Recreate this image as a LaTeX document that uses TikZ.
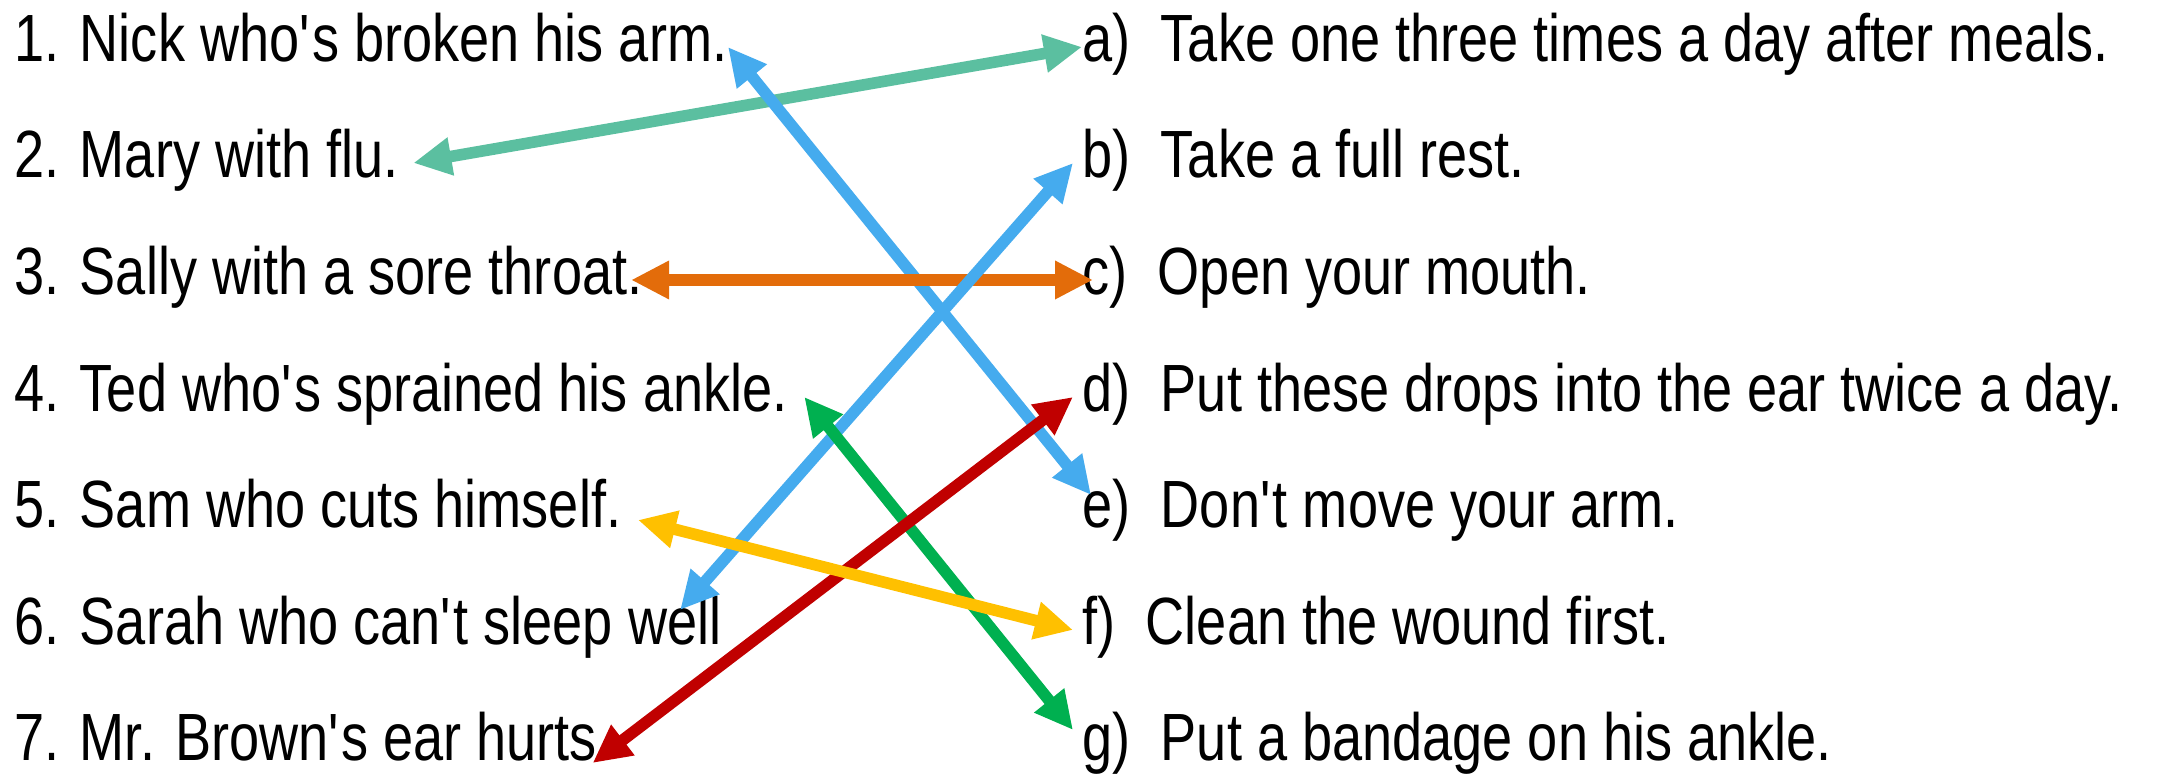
\documentclass[tikz,border=0pt]{standalone}
\usepackage{fontspec}
\setmainfont{Liberation Sans}[FakeStretch=0.81]
\usetikzlibrary{arrows.meta}

\definecolor{tealc}{RGB}{91,191,160}
\definecolor{bluec}{RGB}{69,171,238}
\definecolor{orangec}{RGB}{227,108,10}
\definecolor{greenc}{RGB}{0,176,80}
\definecolor{redc}{RGB}{192,0,0}
\definecolor{yellowc}{RGB}{255,192,0}

\tikzset{
  item/.style={anchor=base west, inner sep=0pt, text height=0.5cm, text depth=0.2cm,
    font=\fontsize{19}{23}\selectfont},
  link/.style={line width=3.3pt,
    {Triangle[length=0.38cm,width=0.36cm]}-{Triangle[length=0.38cm,width=0.36cm]}}
}

\begin{document}
\begin{tikzpicture}
        [x=0.01cm, y=-0.01cm]
        \useasboundingbox (0,0) rectangle (2182,777);
        \node[item] (n1) at (14,62)  {1. Nick who\textquotesingle s broken his arm.};
        \node[item] (n2) at (14,178) {2. Mary with flu.};
        \node[item] (n3) at (14,295) {3. Sally with a sore throat.};
        \node[item] (n4) at (14,412) {4. Ted who\textquotesingle s sprained his ankle.};
        \node[item] (n5) at (14,528) {5. Sam who cuts himself.};
        \node[item] (n6) at (14,645) {6. Sarah who can\textquotesingle t sleep well};
        \node[item] (n7) at (14,761) {7. Mr. Brown\textquotesingle s ear hurts.};

        \node[item] (a) at (1082,62)  {a)\ \ Take one three times a day after meals.};
        \node[item] (b) at (1082,178) {b)\ \ Take a full rest.};
        \node[item] (c) at (1082,295) {c)\ \ Open your mouth.};
        \node[item] (d) at (1082,412) {d)\ \ Put these drops into the ear twice a day.};
        \node[item] (e) at (1082,528) {e)\ \ Don\textquotesingle t move your arm.};
        \node[item] (f) at (1082,645) {f)\ \ Clean the wound first.};
        \node[item] (g) at (1082,761) {g)\ \ Put a bandage on his ankle.};

        \draw[link, tealc] ([xshift=0.14cm]n2.east) -- (a.west);
        \draw[link, bluec] (n1.east) -- ([xshift=0.09cm, yshift=0.18cm]e.west);
        \draw[link, orangec] ([xshift=-0.12cm]n3.east) -- ([xshift=0.11cm]c.west);
        \draw[link, bluec] ([xshift=-0.42cm, yshift=0.2cm]n6.east) -- ([xshift=-0.09cm]b.west);
        \draw[link, greenc] ([xshift=0.16cm]n4.east) -- ([xshift=-0.09cm, yshift=0.16cm]g.west);
        \draw[link, redc] ([xshift=-0.2cm, yshift=-0.17cm]n7.east) -- ([xshift=-0.09cm]d.west);
        \draw[link, yellowc] ([xshift=0.16cm, yshift=-0.07cm]n5.east) -- ([xshift=-0.09cm]f.west);
    \end{tikzpicture}
\end{document}
